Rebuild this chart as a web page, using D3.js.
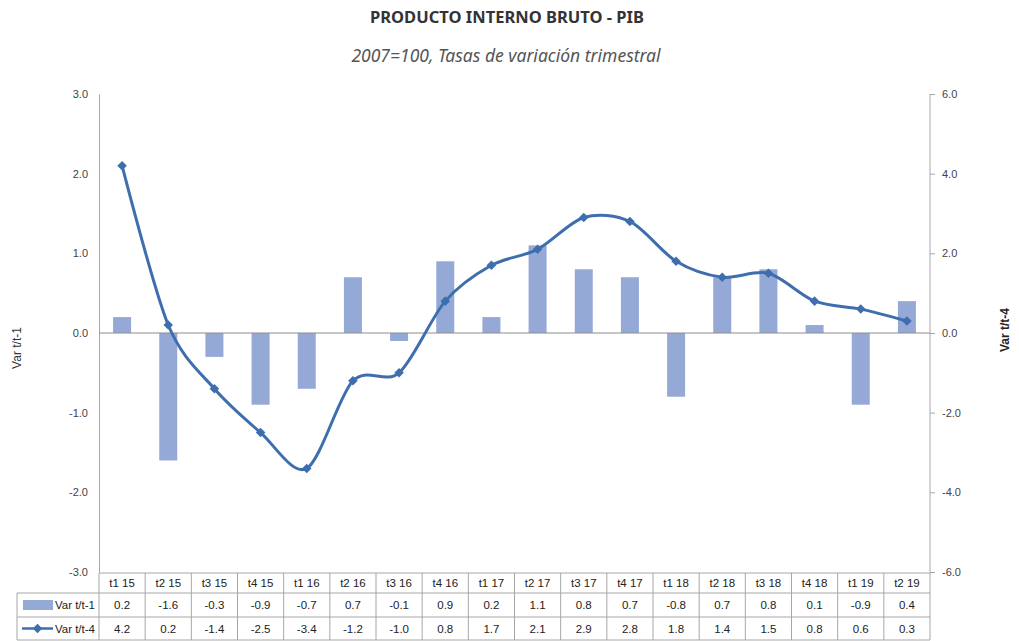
<!DOCTYPE html>
<html>
<head>
<meta charset="utf-8">
<script src="https://cdn.jsdelivr.net/npm/d3@7"></script>
<style>
  body { margin: 0; background: #fff; }
  svg { display: block; }
  text { font-family: "Liberation Sans", Arial, sans-serif; }
</style>
</head>
<body>
<svg width="1019" height="641"></svg>
<script>
var periods = ["t1 15","t2 15","t3 15","t4 15","t1 16","t2 16","t3 16","t4 16","t1 17","t2 17","t3 17","t4 17","t1 18","t2 18","t3 18","t4 18","t1 19","t2 19"];
var varT1 = [0.2,-1.6,-0.3,-0.9,-0.7,0.7,-0.1,0.9,0.2,1.1,0.8,0.7,-0.8,0.7,0.8,0.1,-0.9,0.4];
var varT4 = [4.2,0.2,-1.4,-2.5,-3.4,-1.2,-1.0,0.8,1.7,2.1,2.9,2.8,1.8,1.4,1.5,0.8,0.6,0.3];
var leftTicks = [3,2,1,0,-1,-2,-3];
var rightTicks = [6,4,2,0,-2,-4,-6];
var seriesNames = ["Var t/t-1", "Var t/t-4"];

var svg = d3.select("svg");
var barColor = "#95a9d7";
var lineColor = "#3f6eaf";
var gridColor = "#a6a6a6";

var x0 = 99, x1 = 930, yTop = 94, yBot = 572;

// plain hyphen for negatives, like the source
var fmt = function(d) { return d3.format(".1f")(d).replace("\u2212", "-"); };

var x = d3.scaleBand().domain(periods).range([x0, x1]).padding(0);
var yL = d3.scaleLinear().domain([-3, 3]).range([yBot, yTop]);
var yR = d3.scaleLinear().domain([-6, 6]).range([yBot, yTop]);

// titles
svg.append("text").attr("x", 507).attr("y", 23).attr("text-anchor", "middle")
  .style("font-family", "'Noto Sans', sans-serif")
  .style("font-weight", "bold").style("font-size", "16.5px").attr("fill", "#333")
  .text("PRODUCTO INTERNO BRUTO - PIB");
svg.append("text").attr("x", 506).attr("y", 62).attr("text-anchor", "middle")
  .style("font-family", "'Noto Sans', sans-serif")
  .style("font-style", "italic").style("font-size", "17.5px").attr("fill", "#555")
  .text("2007=100, Tasas de variación trimestral");

// left axis
var leftAxis = svg.append("g").attr("transform", "translate(" + x0 + ",0)")
  .call(d3.axisLeft(yL).tickValues(leftTicks).tickFormat(fmt).tickSize(0).tickPadding(11));
leftAxis.select(".domain").attr("stroke", gridColor);
leftAxis.selectAll("text").style("font-size", "11px").attr("fill", "#444");

// right axis
var rightAxis = svg.append("g").attr("transform", "translate(" + x1 + ",0)")
  .call(d3.axisRight(yR).tickValues(rightTicks).tickFormat(fmt).tickSize(5).tickPadding(7));
rightAxis.select(".domain").attr("stroke", gridColor).attr("d", "M0," + yTop + "V" + yBot);
rightAxis.selectAll("line").attr("stroke", gridColor);
rightAxis.selectAll("text").style("font-size", "11px").attr("fill", "#444");

// axis titles
svg.append("text").attr("transform", "translate(21,348) rotate(-90)")
  .attr("text-anchor", "middle").style("font-size", "12px").attr("fill", "#333").text(seriesNames[0]);
svg.append("text").attr("transform", "translate(1009,330) rotate(-90)")
  .attr("text-anchor", "middle").style("font-size", "12px").style("font-weight", "bold")
  .attr("fill", "#222").text(seriesNames[1]);

// bars
var barW = x.bandwidth() * 0.39;
svg.append("g").selectAll("rect").data(varT1).enter().append("rect")
  .attr("x", function(d, i) { return x(periods[i]) + (x.bandwidth() - barW) / 2; })
  .attr("y", function(d) { return yL(Math.max(0, d)); })
  .attr("width", barW)
  .attr("height", function(d) { return Math.abs(yL(d) - yL(0)); })
  .attr("fill", barColor);

// zero line
svg.append("line").attr("x1", x0).attr("x2", x1).attr("y1", yL(0)).attr("y2", yL(0))
  .attr("stroke", "#8c8c8c").attr("stroke-width", 1);

// line series
var line = d3.line()
  .x(function(d, i) { return x(periods[i]) + x.bandwidth() / 2; })
  .y(function(d) { return yR(d); })
  .curve(d3.curveCardinal.tension(0.1));
svg.append("path").datum(varT4).attr("d", line)
  .attr("fill", "none").attr("stroke", lineColor).attr("stroke-width", 3);

var diamond = d3.symbol().type(d3.symbolDiamond2).size(58);
svg.append("g").selectAll("path").data(varT4).enter().append("path")
  .attr("d", diamond)
  .attr("transform", function(d, i) { return "translate(" + (x(periods[i]) + x.bandwidth() / 2) + "," + yR(d) + ")"; })
  .attr("fill", lineColor);

// data table
var rowTops = [573, 593, 617, 640];
var tbl = svg.append("g");
tbl.append("line").attr("x1", x0).attr("x2", x1).attr("y1", rowTops[0]).attr("y2", rowTops[0]).attr("stroke", gridColor);
[1, 2, 3].forEach(function(r) {
  tbl.append("line").attr("x1", 17).attr("x2", x1).attr("y1", rowTops[r]).attr("y2", rowTops[r]).attr("stroke", gridColor);
});
var colEdges = periods.map(function(p) { return x(p); }).concat([x1]);
colEdges.forEach(function(cx) {
  tbl.append("line").attr("x1", cx).attr("x2", cx).attr("y1", rowTops[0]).attr("y2", rowTops[3]).attr("stroke", gridColor);
});
tbl.append("line").attr("x1", 17).attr("x2", 17).attr("y1", rowTops[1]).attr("y2", rowTops[3]).attr("stroke", gridColor);

function cellText(rowIdx, vals, f) {
  var yc = (rowTops[rowIdx] + rowTops[rowIdx + 1]) / 2;
  tbl.append("g").selectAll("text").data(vals).enter().append("text")
    .attr("x", function(d, i) { return x(periods[i]) + x.bandwidth() / 2; })
    .attr("y", yc).attr("dy", "0.35em").attr("text-anchor", "middle")
    .style("font-size", "11.5px").attr("fill", "#222")
    .text(f);
}
cellText(0, periods, function(d) { return d; });
cellText(1, varT1, fmt);
cellText(2, varT4, fmt);

// legend keys
var ly1 = (rowTops[1] + rowTops[2]) / 2, ly2 = (rowTops[2] + rowTops[3]) / 2;
tbl.append("rect").attr("x", 23).attr("y", ly1 - 5).attr("width", 30).attr("height", 10).attr("fill", barColor);
tbl.append("text").attr("x", 95).attr("y", ly1).attr("dy", "0.35em").attr("text-anchor", "end")
  .style("font-size", "11.5px").attr("fill", "#222").text(seriesNames[0]);
tbl.append("line").attr("x1", 22).attr("x2", 53).attr("y1", ly2).attr("y2", ly2)
  .attr("stroke", lineColor).attr("stroke-width", 2.5);
tbl.append("path").attr("d", diamond).attr("transform", "translate(37.5," + ly2 + ")").attr("fill", lineColor);
tbl.append("text").attr("x", 95).attr("y", ly2).attr("dy", "0.35em").attr("text-anchor", "end")
  .style("font-size", "11.5px").attr("fill", "#222").text(seriesNames[1]);
</script>
</body>
</html>
